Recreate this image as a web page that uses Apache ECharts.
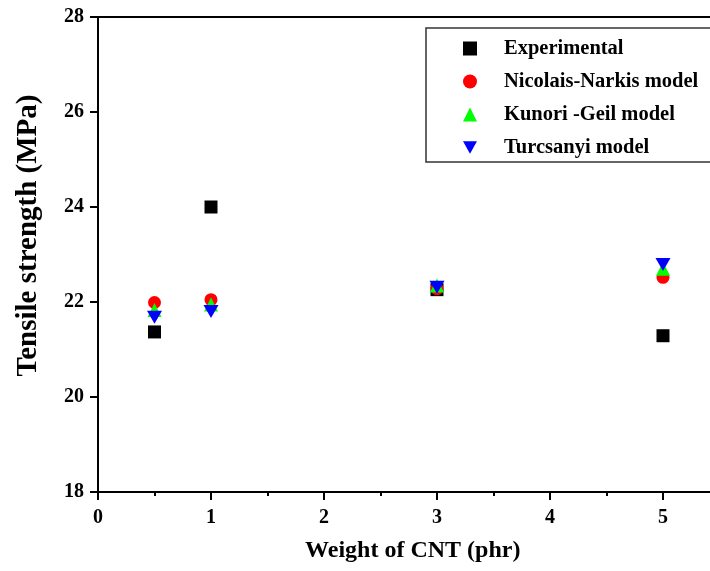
<!DOCTYPE html>
<html><head><meta charset="utf-8">
<script src="https://cdn.jsdelivr.net/npm/echarts@6/dist/echarts.min.js"></script>
<style>html,body{margin:0;padding:0;background:#fff;overflow:hidden}#c{width:710px;height:571px}</style>
</head><body><div id="c"></div>
<script>
const xValues = [0.5, 1, 3, 5];
const experimental = [21.37, 24.0, 22.26, 21.29];
const nicolaisNarkis = [21.99, 22.05, 22.28, 22.52];
const kunoriGeil = [21.83, 21.95, 22.35, 22.7];
const turcsanyi = [21.68, 21.8, 22.31, 22.79];
const seriesNames = ['Experimental', 'Nicolais-Narkis model', 'Kunori -Geil model', 'Turcsanyi model'];

const font = '"Liberation Serif", "Times New Roman", serif';
const pair = arr => xValues.map((x, i) => [x, arr[i]]);
const downTriangle = 'path://M0,0 L10,0 L5,9 Z';

const chart = echarts.init(document.getElementById('c'));
chart.setOption({
  animation: false,
  backgroundColor: '#fff',
  grid: { left: 98, top: 17, width: 621.5, bottom: 79, outerBoundsMode: 'none', containLabel: false,
    show: true, borderColor: '#000', borderWidth: 2, backgroundColor: 'transparent' },
  legend: {
    orient: 'vertical', left: 426, top: 28,
    padding: [10, 60, 4, 37],
    itemGap: 12, itemWidth: 14, itemHeight: 14,
    borderColor: '#333', borderWidth: 1.5,
    textStyle: { fontFamily: font, fontWeight: 'bold', fontSize: 20.5, color: '#000', padding: [0, 0, 0, 22] },
    data: seriesNames
  },
  xAxis: {
    type: 'value', min: 0, max: 5.5, interval: 1,
    name: 'Weight of CNT (phr)', nameLocation: 'middle', nameGap: 47,
    nameTextStyle: { fontFamily: font, fontWeight: 'bold', fontSize: 24, color: '#000', padding: [0, 0, 0, 8] },
    axisLine: { lineStyle: { color: '#000', width: 2 } },
    axisTick: { show: true, length: 8, lineStyle: { color: '#000', width: 2 } },
    minorTick: { show: true, splitNumber: 2, length: 4, lineStyle: { color: '#000', width: 2 } },
    splitLine: { show: false },
    axisLabel: { fontFamily: font, fontWeight: 'bold', fontSize: 20, color: '#000', margin: 16,
      formatter: v => (v % 1 === 0 ? String(v) : '') }
  },
  yAxis: {
    type: 'value', min: 18, max: 28, interval: 2,
    name: 'Tensile strength (MPa)', nameLocation: 'middle', nameGap: 55,
    nameTextStyle: { fontFamily: font, fontWeight: 'bold', fontSize: 29, color: '#000', padding: [0, 0, 0, 38] },
    axisLine: { lineStyle: { color: '#000', width: 2 } },
    axisTick: { show: true, length: 8, lineStyle: { color: '#000', width: 2 } },
    splitLine: { show: false },
    axisLabel: { fontFamily: font, fontWeight: 'bold', fontSize: 20, color: '#000', margin: 14 }
  },
  series: [
    { name: seriesNames[0], type: 'scatter', symbol: 'rect', symbolSize: 13, itemStyle: { color: '#000', opacity: 1 }, data: pair(experimental), z: 2 },
    { name: seriesNames[1], type: 'scatter', symbol: 'circle', symbolSize: 13, itemStyle: { color: '#ff0000', opacity: 1 }, data: pair(nicolaisNarkis), z: 3 },
    { name: seriesNames[2], type: 'scatter', symbol: 'triangle', symbolSize: 14, itemStyle: { color: '#00ff00', opacity: 1 }, data: pair(kunoriGeil), z: 4 },
    { name: seriesNames[3], type: 'scatter', symbol: downTriangle, symbolSize: [15, 13], itemStyle: { color: '#0000ff', opacity: 1 }, data: pair(turcsanyi), z: 5 }
  ]
});
</script></body></html>
